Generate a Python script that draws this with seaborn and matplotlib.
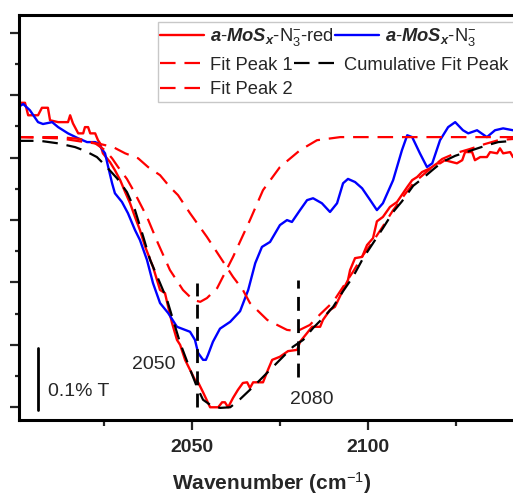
import matplotlib
matplotlib.use("Agg")
import matplotlib.pyplot as plt
import seaborn as sns
from matplotlib.patches import Rectangle
from matplotlib.ticker import MultipleLocator, NullFormatter

# Style
sns.set_style("ticks")
plt.rcParams["font.family"] = ["Liberation Sans", "DejaVu Sans"]
plt.rcParams["mathtext.fontset"] = "custom"
plt.rcParams["mathtext.rm"] = "Liberation Sans"
plt.rcParams["mathtext.it"] = "Liberation Sans:italic"
plt.rcParams["mathtext.bf"] = "Liberation Sans:bold"
plt.rcParams["mathtext.bfit"] = "Liberation Sans:italic:bold"

# Data (wavenumber in cm-1, transmittance offset in %T)
red_x = [2000.7, 2002.7, 2003.6, 2006.4, 2007.5, 2009.2, 2009.8, 2012.1, 2014.9, 2015.5,
         2016.3, 2017.8, 2019.2, 2019.7, 2020.6, 2021.2, 2022.6, 2023.4, 2024.0, 2024.8,
         2026.8, 2028.2, 2029.7, 2031.1, 2032.5, 2033.9, 2035.3, 2036.8, 2039.0, 2041.0,
         2042.4, 2043.3, 2044.4, 2045.8, 2046.7, 2048.1, 2049.5, 2050.9, 2051.8, 2053.2,
         2055.2, 2057.5, 2058.6, 2059.4, 2060.3, 2061.7, 2063.1, 2064.5, 2065.7, 2066.5,
         2067.4, 2070.2, 2071.6, 2072.8, 2075.0, 2077.3, 2079.9, 2080.7, 2082.7, 2084.1,
         2086.4, 2087.2, 2089.2, 2090.6, 2092.9, 2094.3, 2094.9, 2096.3, 2098.3, 2099.7,
         2101.4, 2102.5, 2104.2, 2106.2, 2108.2, 2109.9, 2111.1, 2112.5, 2113.9, 2115.3,
         2117.6, 2119.6, 2120.4, 2121.8, 2123.8, 2125.2, 2126.7, 2127.5, 2129.5, 2130.3,
         2131.8, 2133.7, 2134.6, 2136.6, 2137.4, 2138.3, 2140.3, 2141.1]
red_y = [0.488, 0.488, 0.468, 0.468, 0.480, 0.480, 0.460, 0.457, 0.457, 0.468,
         0.455, 0.439, 0.439, 0.449, 0.449, 0.439, 0.439, 0.428, 0.423, 0.407,
         0.393, 0.380, 0.364, 0.345, 0.327, 0.305, 0.284, 0.257, 0.225, 0.188,
         0.183, 0.161, 0.135, 0.108, 0.100, 0.076, 0.060, 0.044, 0.040, 0.024,
         0.000, 0.000, 0.008, 0.008, 0.000, 0.015, 0.028, 0.039, 0.040, 0.031,
         0.040, 0.040, 0.060, 0.076, 0.081, 0.090, 0.092, 0.105, 0.119, 0.129,
         0.129, 0.140, 0.156, 0.161, 0.188, 0.204, 0.220, 0.239, 0.241, 0.260,
         0.271, 0.298, 0.305, 0.321, 0.329, 0.343, 0.353, 0.364, 0.369, 0.377,
         0.383, 0.391, 0.391, 0.396, 0.393, 0.391, 0.396, 0.409, 0.409, 0.396,
         0.401, 0.401, 0.409, 0.407, 0.415, 0.407, 0.409, 0.401]

blue_x = [2000.7, 2002.2, 2004.1, 2006.4, 2007.8, 2010.4, 2012.1, 2014.9, 2017.8, 2020.3,
          2022.6, 2023.4, 2025.4, 2026.3, 2027.4, 2028.2, 2030.2, 2031.9, 2033.9, 2035.3,
          2037.3, 2039.0, 2041.0, 2043.3, 2045.8, 2049.5, 2050.9, 2051.8, 2053.2, 2054.0,
          2054.6, 2056.0, 2058.0, 2060.9, 2063.7, 2066.0, 2068.0, 2069.9, 2072.2, 2075.0,
          2077.0, 2078.4, 2080.7, 2082.7, 2084.4, 2086.9, 2089.2, 2091.2, 2092.9, 2094.3,
          2096.3, 2098.3, 2100.6, 2102.5, 2104.2, 2107.1, 2109.6, 2111.1, 2112.5, 2114.7,
          2116.7, 2118.2, 2120.4, 2122.7, 2124.7, 2126.9, 2128.4, 2130.9, 2133.7, 2136.0,
          2138.3, 2141.1]
blue_y = [0.481, 0.486, 0.476, 0.457, 0.454, 0.457, 0.449, 0.439, 0.431, 0.425,
          0.425, 0.423, 0.407, 0.385, 0.359, 0.343, 0.329, 0.311, 0.284, 0.268,
          0.236, 0.199, 0.167, 0.151, 0.129, 0.121, 0.108, 0.087, 0.076, 0.076,
          0.084, 0.105, 0.126, 0.137, 0.154, 0.188, 0.231, 0.257, 0.265, 0.292,
          0.300, 0.297, 0.316, 0.332, 0.335, 0.327, 0.313, 0.327, 0.359, 0.366,
          0.361, 0.351, 0.332, 0.316, 0.327, 0.364, 0.412, 0.436, 0.433, 0.407,
          0.385, 0.391, 0.428, 0.449, 0.457, 0.444, 0.439, 0.444, 0.433, 0.444,
          0.447, 0.444]

cum_x = [2000.7, 2007.0, 2012.1, 2016.9, 2019.7, 2023.1, 2025.4, 2028.8, 2031.6, 2033.9,
         2036.2, 2038.2, 2041.0, 2043.0, 2044.7, 2046.7, 2049.5, 2051.5, 2053.2, 2055.2,
         2058.0, 2060.9, 2063.7, 2066.5, 2069.4, 2072.2, 2075.0, 2078.7, 2081.6, 2084.4,
         2087.2, 2090.1, 2092.9, 2095.7, 2098.6, 2101.4, 2104.2, 2107.1, 2109.6, 2112.8,
         2115.3, 2118.2, 2121.0, 2124.7, 2128.9, 2133.2, 2136.9, 2141.1]
cum_y = [0.427, 0.427, 0.423, 0.417, 0.411, 0.401, 0.388, 0.367, 0.345, 0.316,
         0.274, 0.236, 0.199, 0.172, 0.140, 0.103, 0.061, 0.032, 0.012, 0.004,
         -0.001, 0.000, 0.013, 0.028, 0.044, 0.060, 0.076, 0.097, 0.108, 0.127,
         0.143, 0.161, 0.186, 0.209, 0.239, 0.263, 0.287, 0.313, 0.330, 0.355,
         0.366, 0.380, 0.393, 0.403, 0.411, 0.419, 0.425, 0.427]

peak1_x = [2000.7, 2012.6, 2018.3, 2022.6, 2025.4, 2027.4, 2029.1, 2031.6, 2033.4, 2035.3,
           2037.3, 2040.4, 2043.8, 2047.5, 2050.4, 2052.4, 2054.3, 2057.2, 2061.7, 2066.5,
           2070.2, 2075.0, 2080.7, 2085.5, 2092.1, 2141.1]
peak1_y = [0.433, 0.433, 0.430, 0.423, 0.412, 0.399, 0.385, 0.366, 0.348, 0.327,
           0.305, 0.263, 0.220, 0.188, 0.172, 0.169, 0.175, 0.191, 0.241, 0.300,
           0.348, 0.385, 0.412, 0.428, 0.433, 0.433]

peak2_x = [2000.7, 2012.6, 2019.7, 2024.0, 2027.7, 2031.1, 2034.8, 2037.6, 2041.0, 2043.8,
           2046.1, 2049.5, 2054.3, 2058.0, 2061.7, 2064.5, 2066.5, 2071.4, 2077.0, 2079.9,
           2083.5, 2086.4, 2090.1, 2092.9, 2095.7, 2098.6, 2101.4, 2104.2, 2107.1, 2109.6,
           2112.8, 2115.3, 2118.2, 2121.0, 2124.7, 2128.9, 2133.2, 2136.9, 2141.1]
peak2_y = [0.433, 0.431, 0.425, 0.422, 0.417, 0.407, 0.399, 0.385, 0.372, 0.353,
           0.340, 0.311, 0.273, 0.241, 0.209, 0.188, 0.167, 0.140, 0.124, 0.122,
           0.132, 0.149, 0.169, 0.193, 0.217, 0.244, 0.266, 0.290, 0.316, 0.335,
           0.359, 0.371, 0.385, 0.398, 0.407, 0.414, 0.422, 0.428, 0.430]

peak_centers = [2051.5, 2080.0]
peak_tops = [0.199, 0.204]
peak_bottoms = [0.0, 0.048]
peak_labels = ["2050", "2080"]

lab_red = r"$\mathbfit{a}$-$\mathbfit{MoS_x}$-N$_3^{-}$-red"
lab_blue = r"$\mathbfit{a}$-$\mathbfit{MoS_x}$-N$_3^{-}$"

# Figure
fig = plt.figure(figsize=(5.13, 4.96), dpi=100)
ax = fig.add_axes([19 / 513, 76 / 496, 506 / 513, 405 / 496])

dash_kw = dict(linewidth=1.6, linestyle=(0, (7, 4)))

sns.lineplot(x=red_x, y=red_y, ax=ax, sort=False, estimator=None,
             color="#ff0000", linewidth=1.7)
sns.lineplot(x=blue_x, y=blue_y, ax=ax, sort=False, estimator=None,
             color="#0000ff", linewidth=1.7)
sns.lineplot(x=peak1_x, y=peak1_y, ax=ax, sort=False, estimator=None,
             color="#ff0000", **dash_kw)
sns.lineplot(x=peak2_x, y=peak2_y, ax=ax, sort=False, estimator=None,
             color="#ff0000", **dash_kw)
sns.lineplot(x=cum_x, y=cum_y, ax=ax, sort=False, estimator=None,
             color="black", **dash_kw)
line_red, line_blue, line_p1, line_p2, line_cum = ax.get_lines()[:5]

# peak markers
ax.vlines(peak_centers, peak_bottoms, peak_tops, colors="black",
          linewidth=2, linestyles=(0, (5, 3)))
ax.text(2039.3, 0.069, peak_labels[0], fontsize=14, ha="center", va="center")
ax.text(2084.1, 0.013, peak_labels[1], fontsize=14, ha="center", va="center")

# scale bar
ax.plot([2006.3, 2006.3], [-0.005, 0.095], color="black", linewidth=2)
ax.text(2009.2, 0.026, "0.1% T", fontsize=14, ha="left", va="center")

# axes
ax.set_xlim(2001.0, 2144.5)
ax.set_ylim(-0.0204, 0.6287)
ax.xaxis.set_major_locator(MultipleLocator(50))
ax.xaxis.set_minor_locator(MultipleLocator(25))
ax.yaxis.set_major_locator(MultipleLocator(0.1))
ax.yaxis.set_minor_locator(MultipleLocator(0.05))
ax.yaxis.set_major_formatter(NullFormatter())
for lbl in ax.get_xticklabels():
    lbl.set_fontweight("bold")
ax.tick_params(axis="x", which="major", direction="out", length=7, width=1.6,
               labelsize=14, pad=6.5)
ax.tick_params(axis="x", which="minor", direction="out", length=4, width=1.6)
ax.tick_params(axis="y", which="major", direction="out", length=6.5, width=1.6)
ax.tick_params(axis="y", which="minor", direction="out", length=3, width=1.6)
for s in ["left", "bottom", "top", "right"]:
    ax.spines[s].set_visible(True)
    ax.spines[s].set_linewidth(2.2)
    ax.spines[s].set_color("black")
ax.set_xlabel("Wavenumber (cm$^{-1}$)", fontsize=15, fontweight="bold", labelpad=10)
ax.set_ylabel("")

# legend: one row per line of entries, inside a shared frame
frame = Rectangle(((158 - 19) / 506, 1 - (102 - 15) / 405), 1.0, (102 - 22) / 405,
                  transform=ax.transAxes, facecolor="white", edgecolor="#c8c8c8",
                  linewidth=1.0, clip_on=False, zorder=4.9)
ax.add_patch(frame)
rows = [([line_red, line_blue], [lab_red, lab_blue], 37),
        ([line_p1, line_cum], ["Fit Peak 1", "Cumulative Fit Peak"], 65),
        ([line_p2], ["Fit Peak 2"], 90)]
for i, (handles, labs, py) in enumerate(rows):
    lg = ax.legend(handles, labs, ncol=len(handles), loc="center left",
                   bbox_to_anchor=((160 - 19) / 506, 1 - (py - 15) / 405),
                   borderaxespad=0, borderpad=0, fontsize=13.2, handlelength=2.4,
                   handletextpad=0.33, columnspacing=0.05, frameon=False)
    if i < len(rows) - 1:
        ax.add_artist(lg)

fig.savefig("out.png", dpi=100)
